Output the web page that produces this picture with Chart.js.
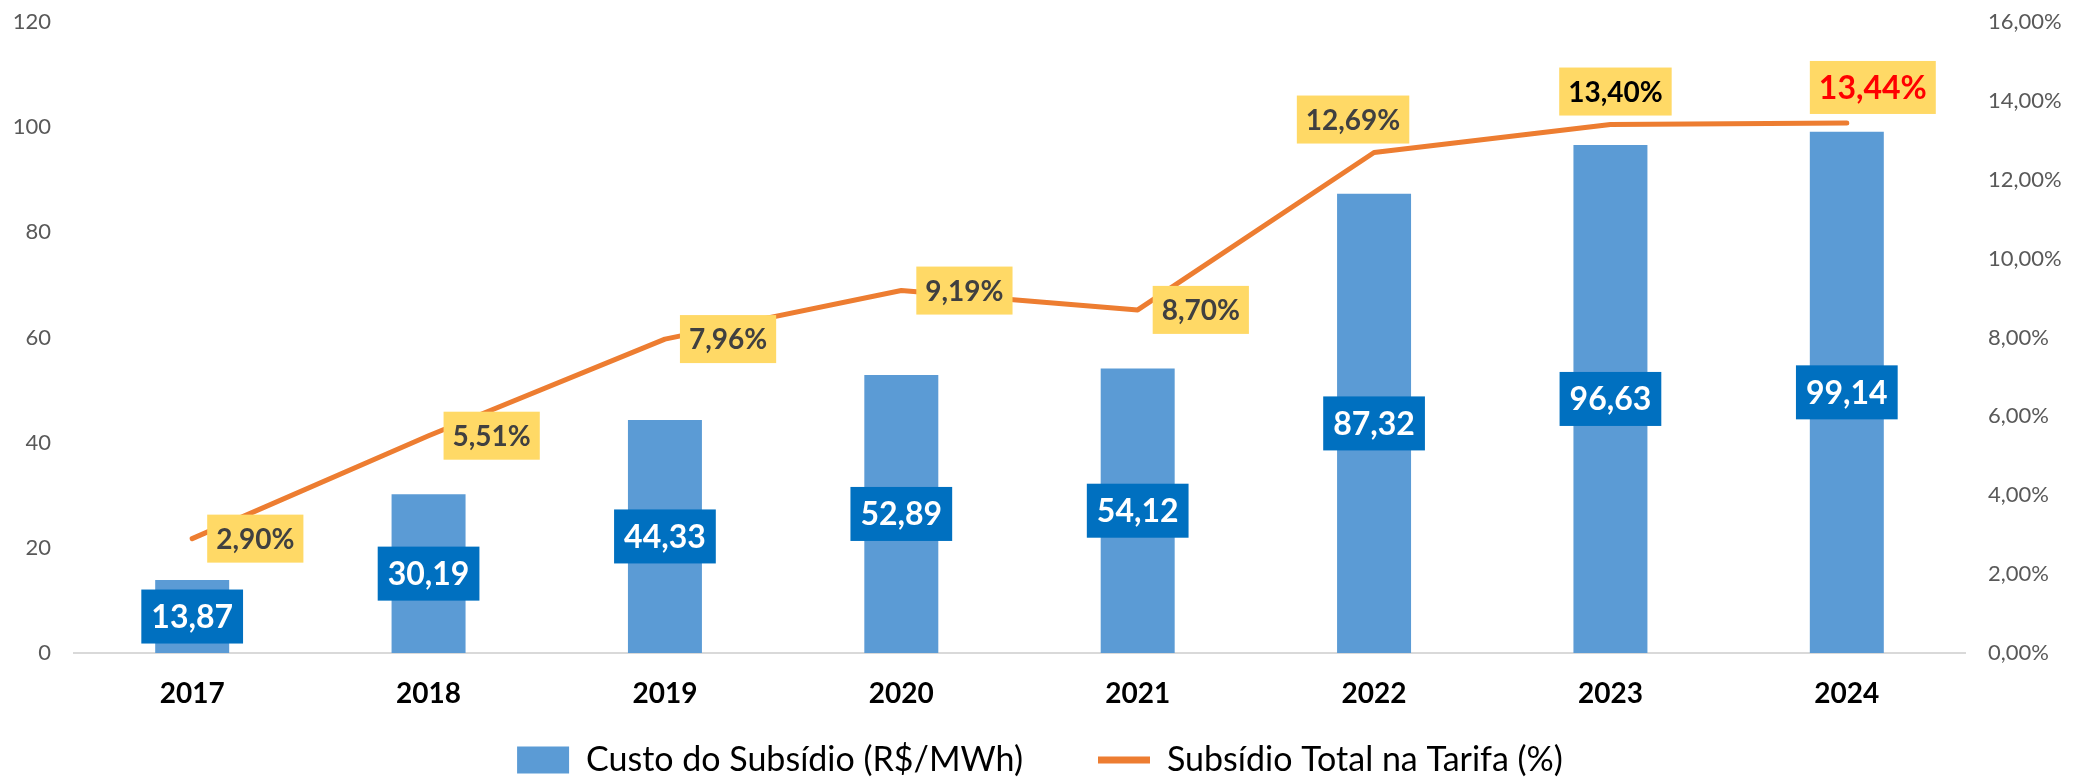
<!DOCTYPE html>
<html lang="pt-BR">
<head>
<meta charset="utf-8">
<title>Custo do Subsídio</title>
<script src="https://cdn.jsdelivr.net/npm/chart.js@4.4.1/dist/chart.umd.min.js"></script>
<style>
  html, body { margin: 0; padding: 0; background: #fff; }
  #wrap { width: 2080px; height: 777px; position: relative; }
</style>
</head>
<body>
<div id="wrap"><canvas id="chart"></canvas></div>
<script>
// data
const years = ['2017', '2018', '2019', '2020', '2021', '2022', '2023', '2024'];
const custoSubsidio = [13.87, 30.19, 44.33, 52.89, 54.12, 87.32, 96.63, 99.14]; // R$/MWh
const subsidioTarifa = [2.90, 5.51, 7.96, 9.19, 8.70, 12.69, 13.40, 13.44];   // %
const leftAxisMax = 120;
const leftAxisStep = 20;
const rightAxisMax = 16;
const rightAxisStep = 2;

const FONT = 'Lato';
const BAR_COLOR = '#5B9BD5';
const LINE_COLOR = '#ED7D31';

// where each % label sits relative to its point (Excel labels were moved by hand)
const pctLabelPlacement = [
  { side: 'right' }, { side: 'right' }, { side: 'right' }, { side: 'right' }, { side: 'right' },
  { side: 'top', dx: -21 }, { side: 'top', dx: 5 }, { side: 'top', dx: 26 }
];
const pctLabelColor = ['#404040', '#404040', '#404040', '#404040', '#404040', '#404040', '#000000', '#FF0000'];

const fmt = (v) => v.toFixed(2).replace('.', ',');

const valueLabels = {
  id: 'valueLabels',
  afterDatasetsDraw(chart) {
    const ctx = chart.ctx;
    ctx.save();
    ctx.textAlign = 'center';
    ctx.textBaseline = 'middle';

    // blue boxes in the middle of the bars
    ctx.font = `bold 32px ${FONT}`;
    chart.getDatasetMeta(0).data.forEach((bar, i) => {
      const txt = fmt(custoSubsidio[i]);
      const w = ctx.measureText(txt).width + 20;
      const h = 54;
      const cy = (bar.y + bar.base) / 2;
      ctx.fillStyle = '#0070C0';
      ctx.fillRect(bar.x - w / 2, cy - h / 2, w, h);
      ctx.fillStyle = '#FFFFFF';
      ctx.fillText(txt, bar.x, cy + 1);
    });

    // yellow boxes next to the line
    chart.getDatasetMeta(1).data.forEach((pt, i) => {
      const last = i === subsidioTarifa.length - 1;
      const size = last ? 32 : 28;
      const h = last ? 53 : 48;
      ctx.font = `bold ${size}px ${FONT}`;
      const txt = fmt(subsidioTarifa[i]) + '%';
      const w = ctx.measureText(txt).width + 18;
      const p = pctLabelPlacement[i];
      let cx, cy;
      if (p.side === 'right') {
        cx = pt.x + 15 + w / 2;
        cy = pt.y;
      } else {
        cx = pt.x + p.dx;
        cy = pt.y - 9 - h / 2;
      }
      ctx.fillStyle = '#FFD966';
      ctx.fillRect(cx - w / 2, cy - h / 2, w, h);
      ctx.fillStyle = pctLabelColor[i];
      ctx.fillText(txt, cx, cy + 1);
    });
    ctx.restore();
  }
};

// x axis box is kept short so the legend sits close; let its labels draw below it
const xLabelRoom = {
  id: 'xLabelRoom',
  afterLayout(chart) {
    chart.scales.x.bottom = chart.height;
  }
};

new Chart(document.getElementById('chart'), {
  type: 'bar',
  data: {
    labels: years,
    datasets: [
      {
        label: 'Custo do Subsídio (R$/MWh)',
        data: custoSubsidio,
        backgroundColor: BAR_COLOR,
        yAxisID: 'y',
        barPercentage: 0.313,
        categoryPercentage: 1,
        order: 2
      },
      {
        type: 'line',
        label: 'Subsídio Total na Tarifa (%)',
        data: subsidioTarifa,
        borderColor: LINE_COLOR,
        backgroundColor: LINE_COLOR,
        borderWidth: 5,
        borderCapStyle: 'round',
        borderJoinStyle: 'round',
        pointRadius: 0,
        tension: 0,
        yAxisID: 'y1',
        order: 1
      }
    ]
  },
  options: {
    responsive: true,
    maintainAspectRatio: false,
    animation: false,
    devicePixelRatio: 1,
    layout: { padding: { top: 0, bottom: -10, left: 0, right: 0 } },
    plugins: {
      tooltip: { enabled: false },
      legend: {
        position: 'bottom',
        labels: {
          usePointStyle: true,
          pointStyleWidth: 52,
          boxHeight: 27,
          padding: 75,
          color: '#000',
          font: { family: FONT, size: 34 },
          generateLabels: () => [
            { text: 'Custo do Subsídio (R$/MWh)', fillStyle: BAR_COLOR, strokeStyle: BAR_COLOR, lineWidth: 0, pointStyle: 'rect', datasetIndex: 0, hidden: false },
            { text: 'Subsídio Total na Tarifa (%)', fillStyle: LINE_COLOR, strokeStyle: LINE_COLOR, lineWidth: 7, pointStyle: 'line', datasetIndex: 1, hidden: false }
          ]
        }
      }
    },
    scales: {
      x: {
        grid: { display: false, drawTicks: false },
        border: { display: true, color: '#D9D9D9', width: 2 },
        ticks: { color: '#000', padding: 24, font: { family: FONT, size: 28, weight: 'bold' } },
        afterFit: (scale) => { scale.height = 15; }
      },
      y: {
        position: 'left',
        min: 0,
        max: leftAxisMax,
        grid: { display: false, drawTicks: false },
        border: { display: false },
        ticks: { stepSize: leftAxisStep, color: '#595959', padding: 23, font: { family: FONT, size: 22 } },
        afterFit: (scale) => { scale.width = 74; scale.paddingTop = 22; scale.paddingBottom = 0; }
      },
      y1: {
        position: 'right',
        min: 0,
        max: rightAxisMax,
        grid: { display: false, drawTicks: false },
        border: { display: false },
        ticks: {
          stepSize: rightAxisStep,
          color: '#595959',
          padding: 23,
          font: { family: FONT, size: 22 },
          callback: (v) => fmt(v) + '%'
        },
        afterFit: (scale) => { scale.width = 115; scale.paddingTop = 22; scale.paddingBottom = 0; }
      }
    }
  },
  plugins: [valueLabels, xLabelRoom]
});
</script>
</body>
</html>
